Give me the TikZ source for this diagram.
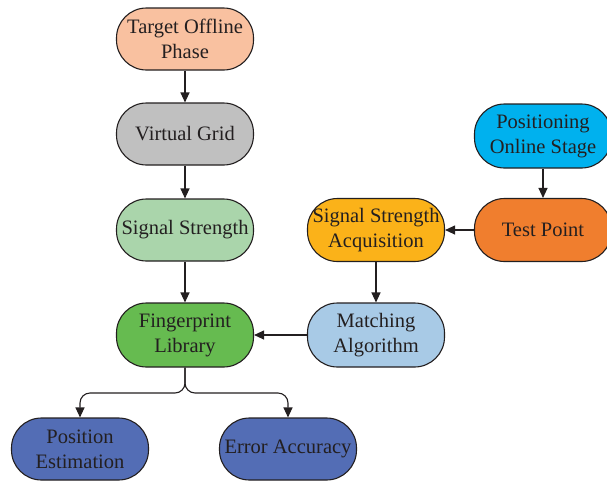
\documentclass[tikz,border=0pt]{standalone}
\usepackage{fontspec}
\setmainfont{Liberation Serif}
\usetikzlibrary{arrows.meta}
\definecolor{cPeach}{HTML}{F9C1A0}
\definecolor{cGray}{HTML}{C0C0C0}
\definecolor{cLGreen}{HTML}{AAD5AB}
\definecolor{cGreen}{HTML}{66BB50}
\definecolor{cLBlue}{HTML}{A8CAE6}
\definecolor{cYellow}{HTML}{FBB219}
\definecolor{cOrange}{HTML}{F07E2E}
\definecolor{cCyan}{HTML}{00B1EE}
\definecolor{cBlue}{HTML}{536DB5}
\definecolor{cText}{HTML}{231F20}
\tikzset{
  pill/.style={draw=cText, line width=1.1pt, rounded corners=30pt,
    minimum width=137pt, minimum height=62pt, align=center, inner sep=1pt,
    text=cText, font=\fontsize{20.5pt}{25pt}\selectfont},
  conn/.style={draw=cText, line width=1.1pt, -{Triangle[length=10pt,width=9pt]}},
}
\begin{document}
\begin{tikzpicture}[x=1pt,y=-1pt]
\useasboundingbox (0,0) rectangle (607,480);
\node[pill, fill=cPeach] (tgt) at (185,39) {Target Offline\\Phase};
\node[pill, fill=cGray] (vg) at (185,134) {Virtual Grid};
\node[pill, fill=cLGreen] (ss) at (185,230) {Signal Strength};
\node[pill, fill=cGreen, minimum height=64pt] (fp) at (185,335) {Fingerprint\\Library};
\node[pill, fill=cLBlue, minimum height=64pt] (ma) at (376,335) {Matching\\Algorithm};
\node[pill, fill=cYellow, minimum height=63pt] (ssa) at (376,230) {Signal Strength\\Acquisition};
\node[pill, fill=cOrange, minimum height=63pt] (tp) at (543,230) {Test Point};
\node[pill, fill=cCyan, minimum height=64pt] (pos) at (543,136) {Positioning\\Online Stage};
\node[pill, fill=cBlue] (pe) at (80,449) {Position\\Estimation};
\node[pill, fill=cBlue] (ea) at (288,449) {Error Accuracy};
\draw[conn] (tgt) -- (vg);
\draw[conn] (vg) -- (ss);
\draw[conn] (ss) -- (fp);
\draw[conn] (pos) -- (tp);
\draw[conn] (tp) -- (ssa);
\draw[conn] (ssa) -- (ma);
\draw[conn] (ma) -- (fp);
\draw[conn, rounded corners=10pt] (fp.south) -- (185,393) -| (pe.north);
\draw[conn, rounded corners=10pt] (fp.south) -- (185,393) -| (ea.north);
\end{tikzpicture}
\end{document}
